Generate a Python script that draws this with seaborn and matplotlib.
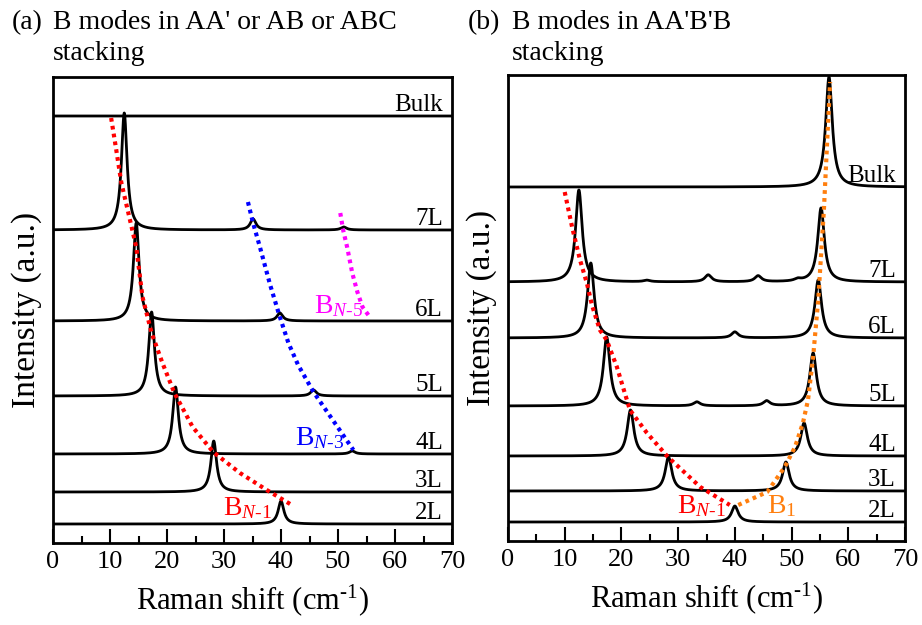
import numpy as np
import pandas as pd
import matplotlib
matplotlib.use("Agg")
import matplotlib.pyplot as plt
import seaborn as sns

# ---- data -------------------------------------------------------------
layers = ["2L", "3L", "4L", "5L", "6L", "7L", "Bulk"]

# (a) AA' / AB / ABC stacking: baseline offsets, peak centres (cm^-1) and heights
offsets_a = [19, 51, 89, 147, 222, 313, 427]
centers_a = [[40.0], [28.2], [21.5, 52.5], [17.3, 45.7], [14.6, 39.8],
             [12.5, 35.1, 51.0], []]
heights_a = [[23], [51], [67, 3], [84, 6], [98, 8], [117, 11, 3], []]
hwhm_a = 0.6

# (b) AA'B'B stacking
offsets_b = [19, 50, 85, 135, 203, 259, 354]
centers_b = [[40.0], [28.3, 49.0], [21.6, 52.2], [17.4, 33.3, 45.6, 53.8],
             [14.6, 40.0, 54.7], [12.5, 24.5, 35.3, 44.1, 51.1, 55.2], [56.6]]
heights_b = [[16], [34, 29], [46, 33], [69, 4, 5, 53], [75, 6, 58],
             [92, 1.5, 7, 6, 2, 74], [110]]
hwhm_b = 0.7

# guide-to-the-eye branches (Raman shift, intensity)
bn1_a_x = [10.2, 11.1, 12.0, 13.1, 14.6, 15.7, 17.3, 19.2, 21.3, 24.5, 28.1, 32.8, 37.5, 41.6]
bn1_a_y = [425, 393, 360, 333, 296, 246, 210, 180, 150, 116, 91, 70, 53, 39]
bn3_a_x = [34.2, 35.1, 36.3, 38.1, 39.8, 41.3, 43.0, 45.7, 49.2, 52.7]
bn3_a_y = [341, 320, 296, 258, 226, 200, 178, 151, 122, 93]
bn5_a_x = [50.4, 50.9, 51.6, 52.5, 53.4, 54.3, 55.7]
bn5_a_y = [330, 313, 296, 270, 251, 236, 225]

bn1_b_x = [10.0, 11.3, 12.7, 13.9, 14.8, 16.2, 17.4, 19.2, 21.5, 24.5, 28.2, 33.9, 39.1]
bn1_b_y = [349, 314, 281, 258, 236, 211, 201, 174, 131, 108, 84, 54, 36]
b1_b_x = [40.6, 45.7, 48.8, 50.6, 52.0, 52.9, 53.8, 54.7, 55.7, 56.4, 56.8]
b1_b_y = [36, 49, 74, 94, 118, 141, 184, 241, 331, 414, 459]

xticks = [0, 10, 20, 30, 40, 50, 60, 70]

# ---- style ------------------------------------------------------------
sns.set_theme(style="white")
plt.rcParams["font.family"] = ["Liberation Serif", "DejaVu Serif"]
plt.rcParams["mathtext.fontset"] = "custom"
plt.rcParams["mathtext.rm"] = "Liberation Serif"
plt.rcParams["mathtext.it"] = "Liberation Serif:italic"
plt.rcParams["mathtext.bf"] = "Liberation Serif:bold"
for key in ["text.color", "axes.labelcolor", "xtick.color", "ytick.color", "axes.edgecolor"]:
    plt.rcParams[key] = "black"

RED, BLUE, MAGENTA, ORANGE = "#ff0000", "#0000ff", "#ff00ff", "#ff7f0e"

grid = np.linspace(0, 70, 3501)


def spectra_frame(offsets, centers, heights, hwhm):
    rows = []
    for name, off, cs, hs in zip(layers, offsets, centers, heights):
        y = np.full_like(grid, float(off))
        for c, h in zip(cs, hs):
            y += h * hwhm ** 2 / ((grid - c) ** 2 + hwhm ** 2)
        rows.append(pd.DataFrame({"shift": grid, "intensity": y, "layer": name}))
    return pd.concat(rows, ignore_index=True)


fig = plt.figure(figsize=(9.22, 6.25), dpi=100)
ax_a = fig.add_axes([53 / 922, 82 / 625, 399 / 922, 466 / 625])
ax_b = fig.add_axes([508 / 922, 84 / 625, 397 / 922, 466 / 625])

dot = (0, (0.9, 1.0))


def draw_panel(ax, offsets, centers, heights, hwhm):
    df = spectra_frame(offsets, centers, heights, hwhm)
    sns.lineplot(data=df, x="shift", y="intensity", units="layer", estimator=None,
                 sort=False, color="black", lw=2.0, ax=ax, legend=False)
    for name, off in zip(layers, offsets):
        ax.text(68.4, off + 5, name, ha="right", va="baseline", fontsize=18)
    ax.set_xlim(0, 70)
    ax.set_ylim(0, 466)
    ax.set_xticks(xticks)
    ax.set_xticks(np.arange(5, 70, 10), minor=True)
    ax.set_yticks([])
    ax.tick_params(axis="x", which="major", direction="in", length=10, width=1.5,
                   labelsize=19, pad=6, bottom=True, top=False)
    ax.tick_params(axis="x", which="minor", direction="in", length=5, width=1.5,
                   bottom=True, top=False)
    for s in ax.spines.values():
        s.set_linewidth(2.0)
        s.set_color("black")
    ax.set_xlabel(r"Raman shift (cm$^{\text{-}1}$)", fontsize=22)
    ax.xaxis.set_label_coords(0.5, -0.085)
    ax.set_ylabel("Intensity (a.u.)", fontsize=24)
    ax.yaxis.set_label_coords(-0.028, 0.5)


draw_panel(ax_a, offsets_a, centers_a, heights_a, hwhm_a)
draw_panel(ax_b, offsets_b, centers_b, heights_b, hwhm_b)

for ax, xs, ys, col in [(ax_a, bn1_a_x, bn1_a_y, RED), (ax_a, bn3_a_x, bn3_a_y, BLUE),
                        (ax_a, bn5_a_x, bn5_a_y, MAGENTA), (ax_b, bn1_b_x, bn1_b_y, RED),
                        (ax_b, b1_b_x, b1_b_y, ORANGE)]:
    ax.plot(xs, ys, color=col, lw=3.0, linestyle=dot, dash_capstyle="butt", zorder=3)

lab = dict(fontsize=20, ha="left", va="baseline")
ax_a.text(29.8, 28, r"$\mathrm{B}_{N\text{-}1}$", color=RED, **lab)
ax_a.text(42.5, 98, r"$\mathrm{B}_{N\text{-}3}$", color=BLUE, **lab)
ax_a.text(45.8, 230, r"$\mathrm{B}_{N\text{-}5}$", color=MAGENTA, **lab)
ax_b.text(29.8, 28, r"$\mathrm{B}_{N\text{-}1}$", color=RED, **lab)
ax_b.text(45.7, 28, r"$\mathrm{B}_{1}$", color=ORANGE, **lab)

fig.text(12 / 922, 1 - 29 / 625, "(a)", fontsize=20, va="baseline")
fig.text(53 / 922, 1 - 29 / 625, "B modes in AA' or AB or ABC", fontsize=20, va="baseline")
fig.text(53 / 922, 1 - 60 / 625, "stacking", fontsize=20, va="baseline")
fig.text(468 / 922, 1 - 29 / 625, "(b)", fontsize=20, va="baseline")
fig.text(512 / 922, 1 - 29 / 625, "B modes in AA'B'B", fontsize=20, va="baseline")
fig.text(512 / 922, 1 - 60 / 625, "stacking", fontsize=20, va="baseline")

fig.savefig("out.png", dpi=100)
